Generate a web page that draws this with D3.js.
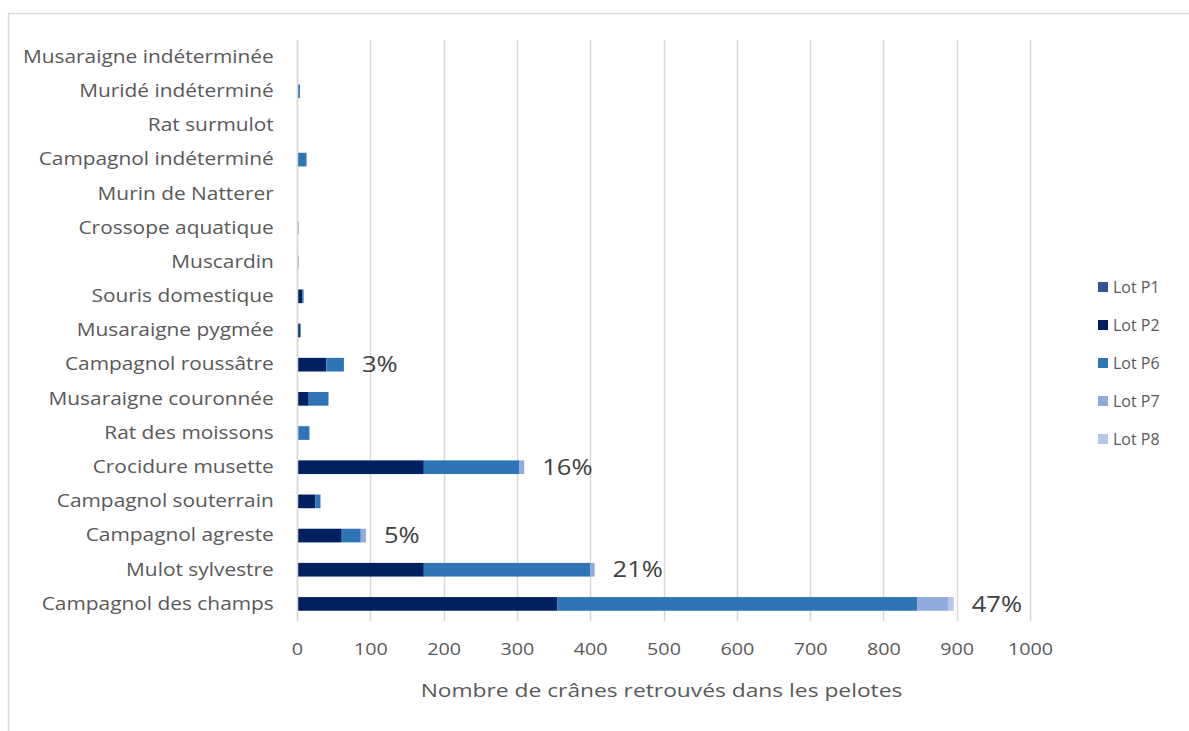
<!DOCTYPE html>
<html>
<head>
<meta charset="utf-8">
<script src="https://cdn.jsdelivr.net/npm/d3@7"></script>
<style>
  body { margin: 0; background: #fff; }
  svg { display: block; font-family: "Open Sans", sans-serif; }
</style>
</head>
<body>
<svg id="chart" width="1189" height="731"></svg>
<script>
// categories, bottom to top as in the chart
var categories = [
  "Campagnol des champs", "Mulot sylvestre", "Campagnol agreste",
  "Campagnol souterrain", "Crocidure musette", "Rat des moissons",
  "Musaraigne couronnée", "Campagnol roussâtre", "Musaraigne pygmée",
  "Souris domestique", "Muscardin", "Crossope aquatique",
  "Murin de Natterer", "Campagnol indéterminé", "Rat surmulot",
  "Muridé indéterminé", "Musaraigne indéterminée"
];

var seriesNames = ["Lot P1", "Lot P2", "Lot P6", "Lot P7", "Lot P8"];
var seriesColors = ["#2f5597", "#002060", "#2e75b6", "#8faadc", "#b4c7e7"];

var lotP1 = [0, 0, 0, 0, 0, 0, 0, 0, 0, 0, 0, 0, 0, 0, 0, 0, 0];
var lotP2 = [355, 173, 61, 25, 173, 2, 16, 40, 4, 7, 0, 0, 0, 0, 0, 0, 0];
var lotP6 = [491, 227, 26, 7, 130, 15, 27, 24, 1, 2, 2, 2, 0, 13, 0, 4, 0];
var lotP7 = [42, 6, 7, 0, 7, 0, 0, 0, 0, 0, 0, 0, 0, 0, 0, 0, 0];
var lotP8 = [8, 0, 0, 0, 0, 0, 0, 0, 0, 0, 0, 0, 0, 0, 0, 0, 0];

// percentage labels shown next to some bars
var pctCategories = ["Campagnol des champs", "Mulot sylvestre", "Campagnol agreste",
                     "Crocidure musette", "Campagnol roussâtre"];
var pctLabels = ["47%", "21%", "5%", "16%", "3%"];

var xTicks = [0, 100, 200, 300, 400, 500, 600, 700, 800, 900, 1000];

var svg = d3.select("#chart");
var margin = {left: 297, right: 159, top: 40, bottom: 110};
var width = 1030 - margin.left,
    height = 621 - margin.top;
var stretch = 1.16; // the source picture is a bit wider than tall

// outer frame
svg.append("rect")
  .attr("x", 8.5).attr("y", 13.5)
  .attr("width", 1300).attr("height", 900)
  .attr("fill", "none").attr("stroke", "#d9d9d9").attr("stroke-width", 1.5);

var g = svg.append("g").attr("transform", "translate(" + margin.left + "," + margin.top + ")");

var x = d3.scaleLinear().domain([0, 1000]).range([0, width]);
var y = d3.scaleBand().domain(categories.slice().reverse()).range([0, height]).paddingInner(0.6).paddingOuter(0.3);

// gridlines
g.selectAll(".grid").data(xTicks).enter().append("line")
  .attr("x1", function(d) { return Math.round(x(d)) + 0.5; })
  .attr("x2", function(d) { return Math.round(x(d)) + 0.5; })
  .attr("y1", 0).attr("y2", height)
  .attr("stroke", "#d9d9d9").attr("stroke-width", 1.5);

// stacked bars
var table = categories.map(function(c, i) {
  return {cat: c, "Lot P1": lotP1[i], "Lot P2": lotP2[i], "Lot P6": lotP6[i], "Lot P7": lotP7[i], "Lot P8": lotP8[i]};
});
var stacked = d3.stack().keys(seriesNames)(table);

g.selectAll(".series").data(stacked).enter().append("g")
  .attr("fill", function(d, i) { return seriesColors[i]; })
  .selectAll("rect").data(function(d) { return d; }).enter().append("rect")
  .attr("x", function(d) { return x(d[0]); })
  .attr("y", function(d) { return y(d.data.cat); })
  .attr("width", function(d) { return x(d[1]) - x(d[0]); })
  .attr("height", y.bandwidth());

// axes
var xAxis = g.append("g").attr("transform", "translate(0," + height + ")")
  .call(d3.axisBottom(x).tickValues(xTicks).tickFormat(d3.format("d")).tickSize(0).tickPadding(22));
xAxis.select(".domain").remove();
xAxis.selectAll("text").attr("fill", "#595959")
  .attr("transform", "scale(" + stretch + ",1)")
  .style("font-size", "17px").style("font-family", "'Open Sans', sans-serif");

var yAxis = g.append("g").call(d3.axisLeft(y).tickSize(0).tickPadding(20));
yAxis.select(".domain").attr("stroke", "#d9d9d9").attr("stroke-width", 1.5);
yAxis.selectAll("text").attr("fill", "#595959")
  .attr("transform", "scale(" + stretch + ",1)")
  .style("font-size", "18px").style("font-family", "'Open Sans', sans-serif");

// axis title
svg.append("text")
  .attr("transform", "translate(" + (margin.left + width / 2 - 2) + ",697) scale(1.2,1)")
  .attr("text-anchor", "middle").attr("fill", "#595959")
  .style("font-size", "19px")
  .text("Nombre de crânes retrouvés dans les pelotes");

// percentage labels
var totals = {};
categories.forEach(function(c, i) { totals[c] = lotP1[i] + lotP2[i] + lotP6[i] + lotP7[i] + lotP8[i]; });
g.selectAll(".pct").data(pctCategories).enter().append("text")
  .attr("transform", function(d) {
    return "translate(" + (x(totals[d]) + 18) + "," + (y(d) + y.bandwidth() / 2) + ") scale(" + stretch + ",1)";
  })
  .attr("dy", "0.35em")
  .attr("fill", "#404040")
  .style("font-size", "22px")
  .text(function(d, i) { return pctLabels[i]; });

// legend
var legend = svg.append("g").attr("transform", "translate(1098,287)");
var items = legend.selectAll("g").data(seriesNames).enter().append("g")
  .attr("transform", function(d, i) { return "translate(0," + (i * 38) + ")"; });
items.append("rect").attr("x", 0).attr("y", -5).attr("width", 10).attr("height", 10)
  .attr("fill", function(d, i) { return seriesColors[i]; });
items.append("text").attr("x", 15).attr("y", 0).attr("dy", "0.35em")
  .attr("fill", "#595959").style("font-size", "16px")
  .text(function(d) { return d; });
</script>
</body>
</html>
